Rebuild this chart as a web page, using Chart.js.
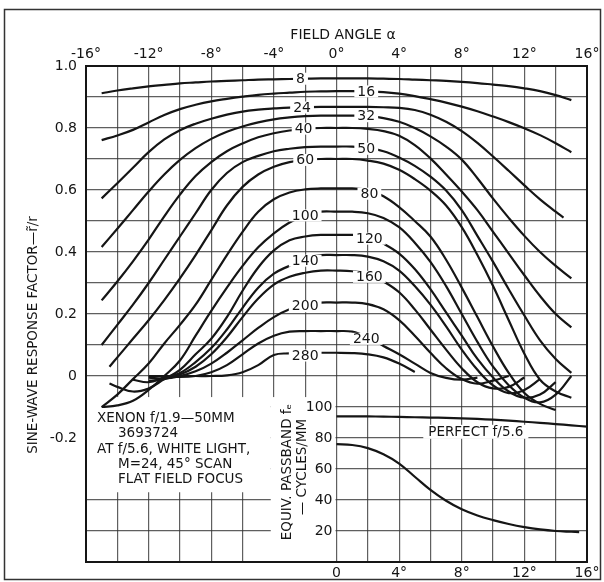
<!DOCTYPE html>
<html><head><meta charset="utf-8">
<script src="https://cdn.jsdelivr.net/npm/chart.js@4.4.1/dist/chart.umd.min.js"></script>
<style>html,body{margin:0;padding:0;background:#fff;}canvas{display:block;}</style>
</head><body>
<canvas id="c" width="604" height="582"></canvas>
<script>
// ---------- data ----------
const angles = [-15,-14.5,-14,-13,-12,-11,-10,-9,-8,-7,-6,-5,-4,-3,-2,-1,0,1,2,3,4,5,6,7,8,9,10,11,12,13,14,14.5,15];

const r8   = [0.912,null,0.921,0.928,0.934,0.939,0.944,0.947,0.950,0.952,0.954,0.956,0.957,0.958,0.959,0.960, 0.960,0.960,0.960,0.959,0.958,0.956,0.954,0.952,0.949,0.945,0.940,0.935,0.928,0.919,0.906,null,0.890];
const r16  = [0.761,null,0.776,0.794,0.818,0.842,0.861,0.875,0.886,0.894,0.901,0.907,0.911,0.914,0.917,0.918, 0.919,0.919,0.918,0.916,0.911,0.903,0.893,0.882,0.869,0.854,0.837,0.819,0.799,0.777,0.751,null,0.722];
const r24  = [0.573,null,0.622,0.672,0.722,0.763,0.793,0.814,0.830,0.843,0.853,0.859,0.863,0.866,0.867,0.868, 0.868,0.868,0.868,0.867,0.865,0.858,0.843,0.820,0.790,0.752,0.708,0.662,0.615,0.570,0.530,0.511,null];
const r32  = [0.416,null,0.475,0.535,0.595,0.650,0.697,0.735,0.765,0.788,0.805,0.818,0.828,0.834,0.838,0.840, 0.840,0.840,0.838,0.832,0.820,0.800,0.773,0.740,0.698,0.638,0.572,0.510,0.452,0.400,0.355,null,0.315];
const r40  = [0.244,null,0.305,0.370,0.440,0.515,0.585,0.645,0.690,0.725,0.750,0.770,0.783,0.792,0.797,0.800, 0.800,0.800,0.797,0.790,0.775,0.745,0.702,0.650,0.595,0.535,0.465,0.395,0.325,0.258,0.200,null,0.157];
const r50  = [0.100,null,0.165,0.230,0.300,0.375,0.450,0.525,0.600,0.655,0.690,0.710,0.725,0.733,0.738,0.740, 0.740,0.740,0.735,0.725,0.705,0.678,0.643,0.598,0.535,0.452,0.368,0.280,0.195,0.115,0.055,null,0.010];
const r60  = [null,0.030,0.060,0.120,0.180,0.245,0.315,0.390,0.470,0.550,0.610,0.650,0.675,0.690,0.697,0.700, 0.700,0.700,0.695,0.685,0.665,0.635,0.598,0.550,0.480,0.390,0.290,0.180,0.072,-0.012,-0.050,null,-0.070];
const r80  = [-0.100,null,-0.060,-0.010,0.040,0.105,0.165,0.230,0.310,0.390,0.465,0.530,0.570,0.592,0.602,0.605, 0.605,0.605,0.600,0.580,0.545,0.500,0.450,0.375,0.285,0.190,0.095,0.010,-0.055,-0.090,-0.110,null,null];
const r100 = [-0.100,null,-0.095,-0.080,-0.045,0.000,0.050,0.130,0.210,0.285,0.355,0.415,0.460,0.495,0.518,0.530, 0.530,0.530,0.525,0.510,0.480,0.430,0.368,0.290,0.200,0.110,0.030,-0.030,-0.070,-0.085,-0.060,null,0.000];
const r120 = [null,-0.024,-0.035,-0.050,-0.040,-0.010,0.020,0.070,0.120,0.190,0.275,0.350,0.405,0.438,0.450,0.455, 0.455,0.455,0.450,0.427,0.395,0.345,0.280,0.205,0.130,0.055,-0.005,-0.050,-0.070,-0.060,-0.020,null,null];
const r140 = [null,null,null,-0.012,-0.020,-0.005,0.010,0.045,0.090,0.150,0.220,0.285,0.330,0.356,0.380,0.390, 0.390,0.390,0.385,0.370,0.340,0.290,0.230,0.160,0.085,0.020,-0.030,-0.055,-0.045,-0.010,null,null,null];
const r160 = [null,null,null,null,-0.015,-0.010,0.005,0.030,0.070,0.125,0.190,0.250,0.295,0.320,0.333,0.340, 0.340,0.338,0.330,0.305,0.270,0.215,0.150,0.085,0.025,-0.020,-0.040,-0.035,-0.005,null,null,null,null];
const r200 = [null,null,null,null,-0.005,-0.008,0.000,0.015,0.040,0.075,0.115,0.155,0.190,0.215,0.230,0.237, 0.237,0.237,0.232,0.215,0.180,0.130,0.075,0.025,-0.010,-0.025,-0.015,0.000,null,null,null,null,null];
const r240 = [null,null,null,null,null,0.000,-0.003,0.000,0.012,0.035,0.070,0.105,0.130,0.143,0.145,0.145, 0.145,0.143,0.125,0.097,0.070,0.040,0.010,-0.006,-0.012,-0.005,null,null,null,null,null,null,null];
const r280 = [null,null,null,null,0.000,0.000,0.000,0.000,0.000,0.002,0.012,0.035,0.068,0.073,0.075,0.075, 0.075,0.074,0.070,0.060,0.040,0.013,null,null,null,null,null,null,null,null,null,null,null];

const curveNames  = ['8','16','24','32','40','50','60','80','100','120','140','160','200','240','280'];
const curveSeries = [r8,r16,r24,r32,r40,r50,r60,r80,r100,r120,r140,r160,r200,r240,r280];

// lower panel: equivalent passband (cycles/mm) vs field angle
const passAngles      = [0,1,2,3,4,5,6,7,8,9,10,11,12,13,14,15,15.5,16];
const perfectPassband = [94.0,94.0,93.9,93.8,93.6,93.4,93.2,93.0,92.7,92.3,91.8,91.2,90.5,89.8,89.0,88.2,null,87.3];
const lensPassband    = [76,75.5,73.5,69.5,63.5,55,46.5,39.5,34,30,27,24.5,22.5,21,20,19.5,19.3,null];

// tick values / labels
const xGridValues      = [-16,-14,-12,-10,-8,-6,-4,-2,0,2,4,6,8,10,12,14,16];
const topTickValues    = [-16,-12,-8,-4,0,4,8,12,16];
const bottomTickValues = [0,4,8,12,16];
const yGridValues      = [-0.6,-0.5,-0.4,-0.3,-0.2,-0.1,0,0.1,0.2,0.3,0.4,0.5,0.6,0.7,0.8,0.9,1.0];
const leftTickValues   = [1.0,0.8,0.6,0.4,0.2,0,-0.2];
const passbandTickValues = [20,40,60,80,100];

// ---------- styling ----------
const FONT = "'DejaVu Sans', 'Liberation Sans', sans-serif";
const INK = '#151515';
const GRID = 'rgba(50,50,50,0.78)';

const curveLabelSpots = [
  {t:'8',x:-2.3,y:0.959},{t:'16',x:1.9,y:0.918},{t:'24',x:-2.2,y:0.866},{t:'32',x:1.9,y:0.838},
  {t:'40',x:-2.1,y:0.798},{t:'50',x:1.9,y:0.733},{t:'60',x:-2.0,y:0.697},{t:'80',x:2.1,y:0.588},
  {t:'100',x:-2.0,y:0.518},{t:'120',x:2.1,y:0.443},{t:'140',x:-2.0,y:0.372},{t:'160',x:2.1,y:0.320},
  {t:'200',x:-2.0,y:0.225},{t:'240',x:1.9,y:0.120},{t:'280',x:-2.0,y:0.066}
];

const toPoints = (xa, ya) => xa.map((x,i)=>({x:x, y:ya[i]})).filter(p=>p.y!==null);

const lineStyle = { borderColor: INK, borderWidth: 2.2, pointRadius: 0, fill: false, tension: 0.4 };
const datasets = curveSeries.map((s,i)=>Object.assign({
  label: curveNames[i], data: toPoints(angles, s), xAxisID:'x', yAxisID:'y'
}, lineStyle));
datasets.push(Object.assign({label:'PERFECT f/5.6', data: toPoints(passAngles, perfectPassband), xAxisID:'x', yAxisID:'y2'}, lineStyle));
datasets.push(Object.assign({label:'XENON f/1.9', data: toPoints(passAngles, lensPassband), xAxisID:'x', yAxisID:'y2'}, lineStyle));

const annot = {
  id: 'annot',
  beforeDraw(chart){
    const c = chart.ctx; c.save(); c.fillStyle = '#fff'; c.fillRect(0,0,chart.width,chart.height); c.restore();
  },
  beforeDatasetsDraw(chart){
    const c = chart.ctx, ca = chart.chartArea, xs = chart.scales.x, ys = chart.scales.y;
    c.save(); c.fillStyle = '#fff';
    const left = ca.left + 1;
    const boxRight = xs.getPixelForValue(-4.2);
    const zeroX = xs.getPixelForValue(0) - 1;
    const top = ys.getPixelForValue(-0.068);
    c.fillRect(left, top, boxRight - left, ys.getPixelForValue(-0.375) - top);
    c.fillRect(boxRight, top, zeroX - boxRight, ca.bottom - 1 - top);
    c.restore();
  },
  afterDatasetsDraw(chart){
    const c = chart.ctx, ca = chart.chartArea, xs = chart.scales.x, ys = chart.scales.y, y2 = chart.scales.y2;
    c.save();
    c.textAlign = 'center'; c.textBaseline = 'middle';
    c.font = '14px ' + FONT;
    curveLabelSpots.forEach(l=>{
      const px = xs.getPixelForValue(l.x), py = ys.getPixelForValue(l.y);
      const w = c.measureText(l.t).width;
      c.fillStyle = '#fff'; c.fillRect(px - w/2 - 3, py - 6, w + 6, 12);
      c.fillStyle = INK; c.fillText(l.t, px, py + 0.5);
    });
    // PERFECT label
    c.font = '13.5px ' + FONT;
    {
      const px = xs.getPixelForValue(8.9), py = y2.getPixelForValue(84);
      const w = c.measureText('PERFECT f/5.6').width;
      c.fillStyle = '#fff'; c.fillRect(px - w/2 - 5, py - 7, w + 10, 14);
      c.fillStyle = INK; c.fillText('PERFECT f/5.6', px, py + 0.5);
    }
    // passband axis tick labels
    c.font = '14px ' + FONT; c.textAlign = 'right';
    const zx = xs.getPixelForValue(0);
    passbandTickValues.forEach(v=>{ c.fillText(String(v), zx - 4, y2.getPixelForValue(v) + 0.5); });
    // lens description block
    c.font = '13.5px ' + FONT; c.textAlign = 'left';
    c.fillText('XENON f/1.9\u201450MM', 97, 418);
    c.fillText('3693724', 118, 433);
    c.fillText('AT f/5.6, WHITE LIGHT,', 97, 449);
    c.fillText('M=24, 45\u00b0 SCAN', 118, 464);
    c.fillText('FLAT FIELD FOCUS', 118, 479);
    // titles
    c.textAlign = 'center';
    c.font = '14px ' + FONT;
    c.fillText('FIELD ANGLE \u03b1', 343, 35);
    c.save(); c.translate(33, 335); c.rotate(-Math.PI/2);
    c.font = '13.5px ' + FONT;
    c.fillText('SINE-WAVE RESPONSE FACTOR\u2014r\u0303/r', 0, 0);
    c.restore();
    c.save(); c.translate(287, 472); c.rotate(-Math.PI/2);
    c.font = '13.5px ' + FONT;
    c.fillText('EQUIV. PASSBAND f\u2091', 0, 0);
    c.restore();
    c.save(); c.translate(302, 467); c.rotate(-Math.PI/2);
    c.font = '13.5px ' + FONT;
    c.fillText('\u2014 CYCLES/MM', 0, 0);
    c.restore();
    // plot border + outer frame
    c.strokeStyle = INK; c.lineWidth = 2;
    c.strokeRect(ca.left, ca.top, ca.right - ca.left, ca.bottom - ca.top);
    c.strokeStyle = '#333'; c.lineWidth = 1.5;
    c.strokeRect(4.5, 9.5, 596, 570);
    c.restore();
  }
};

const near = (a,b)=>Math.abs(a-b)<1e-6;

new Chart(document.getElementById('c'), {
  type: 'line',
  data: { datasets },
  plugins: [annot],
  options: {
    responsive: false, animation: false, events: [],
    layout: { padding: { left: 0, right: 17, top: 0, bottom: 0 } },
    plugins: { legend: { display: false }, tooltip: { enabled: false } },
    scales: {
      x: {
        type: 'linear', position: 'top', min: -16, max: 16,
        afterBuildTicks: s => { s.ticks = xGridValues.map(v=>({value:v})); },
        afterFit: s => { s.height = 66; },
        grid: { color: GRID, lineWidth: 1.2, drawTicks: false },
        border: { display: false },
        ticks: { padding: 3, autoSkip: false, maxRotation: 0, color: INK, font: { family: FONT, size: 14 },
          callback: v => topTickValues.some(t=>near(t,v)) ? (v + '\u00b0') : '' }
      },
      x2: {
        type: 'linear', position: 'bottom', min: -16, max: 16,
        afterBuildTicks: s => { s.ticks = bottomTickValues.map(v=>({value:v})); },
        afterFit: s => { s.height = 20; },
        grid: { display: false, drawTicks: false },
        border: { display: false },
        ticks: { padding: 3, autoSkip: false, maxRotation: 0, color: INK, font: { family: FONT, size: 14 },
          callback: v => near(v,0) ? '0' : (v + '\u00b0') }
      },
      y: {
        type: 'linear', position: 'left', min: -0.6, max: 1.0,
        afterBuildTicks: s => { s.ticks = yGridValues.map(v=>({value:v})); },
        afterFit: s => { s.width = 86; },
        grid: { color: GRID, lineWidth: 1.2, drawTicks: false },
        border: { display: false },
        ticks: { padding: 9, autoSkip: false, color: INK, font: { family: FONT, size: 14 },
          callback: v => leftTickValues.some(t=>near(t,v)) ? (near(v,0) ? '0' : v.toFixed(1)) : '' }
      },
      y2: { type: 'linear', display: false, min: 0, max: 320 }
    }
  }
});
</script>
</body></html>
